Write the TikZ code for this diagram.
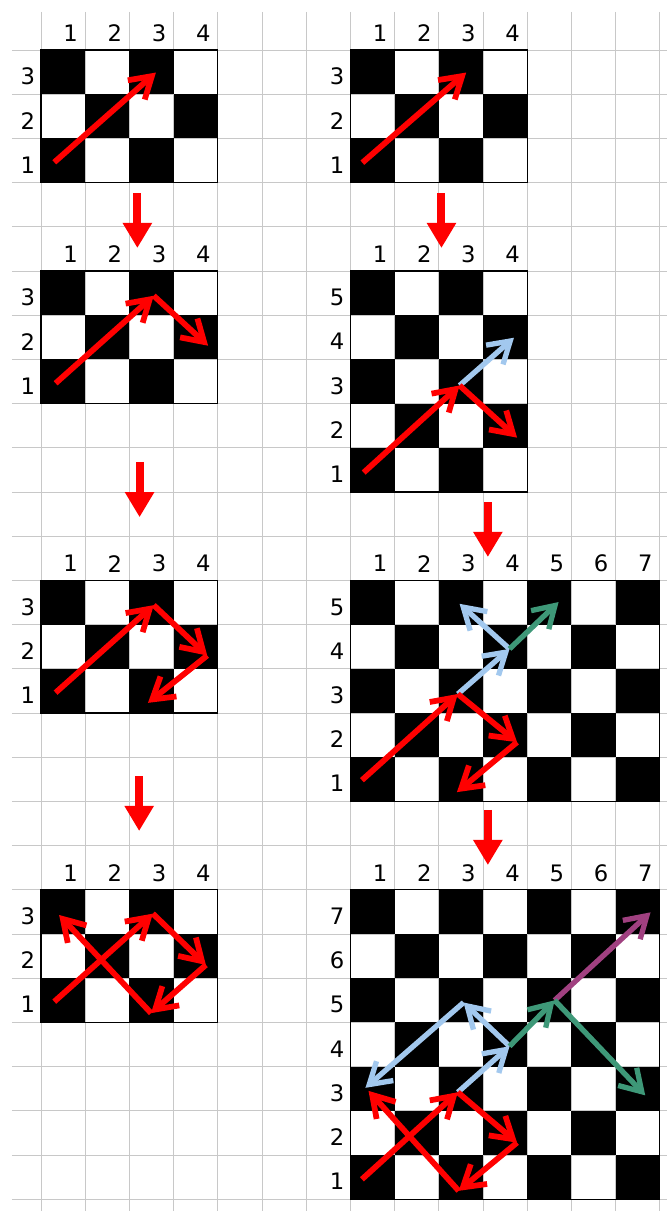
\documentclass[tikz,border=0pt]{standalone}
\usepackage{fontspec}
\setmainfont{DejaVu Sans}
\usetikzlibrary{arrows.meta}
\definecolor{gridgray}{RGB}{200,200,200}
\definecolor{arrred}{RGB}{255,0,0}
\definecolor{arrblue}{RGB}{162,200,238}
\definecolor{arrgreen}{RGB}{62,152,120}
\definecolor{arrpurple}{RGB}{160,64,128}
\newcommand{\drawboard}[3]{%
  \foreach \c in {1,...,#1} {
    \foreach \r in {1,...,#2} {
      \pgfmathtruncatemacro{\parity}{mod(\c+\r,2)}
      \ifnum\parity=0 \fill[black] (\c-1,\r-1) rectangle (\c,\r); \fi
    }
    \node[lbl] (#3c\c) at (\c-0.33,#2+0.38) {\c};
  }
  \foreach \r in {1,...,#2} {\node[lbl] (#3r\r) at (-0.30,\r-0.60) {\r};}
  \draw[boardline] (0,0) rectangle (#1,#2);
}
\begin{document}
\begin{tikzpicture}[x=1cm,y=1cm,
  lbl/.style={font=\fontsize{14.6}{17}\selectfont, inner sep=0pt},
  gridline/.style={draw=gridgray, line width=0.6pt},
  boardline/.style={draw=black, line width=0.7pt},
  barb/.style={-{Straight Barb[length=0.47cm,width=0.58cm]}},
  redarr/.style={barb, draw=arrred, line width=0.13cm},
  bluearr/.style={barb, draw=arrblue, line width=0.12cm},
  greenarr/.style={barb, draw=arrgreen, line width=0.12cm},
  purplearr/.style={barb, draw=arrpurple, line width=0.12cm},
  downarr/.style={draw=arrred, line width=0.18cm, -{Triangle[length=0.57cm,width=0.63cm]}}]
\useasboundingbox (-0.928,-26.267) rectangle (14.163,1.131);
\fill[white] (-0.928,-26.267) rectangle (14.163,1.131);
% background grid
\foreach \k in {0,...,14} {\draw[gridline] (\k,0.86) -- (\k,-26.267);}
\foreach \k in {0,...,26} {\draw[gridline] (-0.66,-\k) -- (14.163,-\k);}

% ---------- left column ----------
\begin{scope}[shift={(0,-3)}]
  \drawboard{4}{3}{la}
  \coordinate (l1A) at (0.30,0.46); \coordinate (l1B) at (2.60,2.49);
  \draw[redarr] (l1A) -- (l1B);
\end{scope}
\begin{scope}[shift={(0,-8)}]
  \drawboard{4}{3}{lb}
  \coordinate (l2A) at (0.33,0.46); \coordinate (l2B) at (2.55,2.44);
  \coordinate (l2C) at (3.78,1.31);
  \draw[redarr] (l2A) -- (l2B);
  \draw[redarr] (l2B) -- (l2C);
\end{scope}
\begin{scope}[shift={(0,-15)}]
  \drawboard{4}{3}{lc}
  \coordinate (l3A) at (0.33,0.46); \coordinate (l3B) at (2.55,2.44);
  \coordinate (l3C) at (3.76,1.30); \coordinate (l3D) at (2.42,0.23);
  \draw[redarr] (l3A) -- (l3B);
  \draw[redarr] (l3B) -- (l3C);
  \draw[redarr] (l3C) -- (l3D);
\end{scope}
\begin{scope}[shift={(0,-22)}]
  \drawboard{4}{3}{ld}
  \coordinate (l4A) at (0.30,0.47); \coordinate (l4B) at (2.53,2.46);
  \coordinate (l4C) at (3.73,1.30); \coordinate (l4D) at (2.49,0.21);
  \coordinate (l4E) at (0.41,2.43);
  \draw[redarr] (l4A) -- (l4B);
  \draw[redarr] (l4B) -- (l4C);
  \draw[redarr] (l4C) -- (l4D);
  \draw[redarr] (l4D) -- (l4E);
\end{scope}

% ---------- right column ----------
\begin{scope}[shift={(7,-3)}]
  \drawboard{4}{3}{ra}
  \coordinate (r1A) at (0.27,0.45); \coordinate (r1B) at (2.62,2.49);
  \draw[redarr] (r1A) -- (r1B);
\end{scope}
\begin{scope}[shift={(7,-10)}]
  \drawboard{4}{5}{rb}
  \coordinate (r2A) at (0.30,0.44); \coordinate (r2B) at (2.47,2.41);
  \coordinate (r2F) at (3.70,3.49); \coordinate (r2C) at (3.77,1.23);
  \draw[redarr] (r2A) -- (r2B);
  \draw[bluearr] (r2B) -- (r2F);
  \draw[redarr] (r2B) -- (r2C);
\end{scope}
\begin{scope}[shift={(7,-17)}]
  \drawboard{7}{5}{rc}
  \coordinate (r3A) at (0.26,0.48); \coordinate (r3B) at (2.43,2.43);
  \coordinate (r3C) at (3.77,1.34); \coordinate (r3D) at (2.41,0.21);
  \coordinate (r3F) at (3.60,3.45); \coordinate (r3G) at (2.47,4.47);
  \coordinate (r3H) at (4.71,4.51);
  \draw[bluearr] (r3B) -- (r3F);
  \draw[bluearr] (r3F) -- (r3G);
  \draw[greenarr] (r3F) -- (r3H);
  \draw[redarr] (r3A) -- (r3B);
  \draw[redarr] (r3B) -- (r3C);
  \draw[redarr] (r3C) -- (r3D);
\end{scope}
\begin{scope}[shift={(7,-26)}]
  \drawboard{7}{7}{rd}
  \coordinate (r4A) at (0.26,0.45); \coordinate (r4B) at (2.43,2.42);
  \coordinate (r4C) at (3.77,1.28); \coordinate (r4D) at (2.45,0.19);
  \coordinate (r4E) at (0.41,2.45); \coordinate (r4F) at (3.60,3.46);
  \coordinate (r4G) at (2.56,4.45); \coordinate (r4K) at (0.34,2.52);
  \coordinate (r4H) at (4.62,4.50); \coordinate (r4M) at (6.67,2.35);
  \coordinate (r4P) at (6.79,6.49);
  \draw[bluearr] (r4B) -- (r4F);
  \draw[bluearr] (r4F) -- (r4G);
  \draw[bluearr] (r4G) -- (r4K);
  \draw[purplearr] (r4H) -- (r4P);
  \draw[greenarr] (r4F) -- (r4H);
  \draw[greenarr] (r4H) -- (r4M);
  \draw[redarr] (r4A) -- (r4B);
  \draw[redarr] (r4B) -- (r4C);
  \draw[redarr] (r4C) -- (r4D);
  \draw[redarr] (r4D) -- (r4E);
\end{scope}

% ---------- step arrows ----------
\coordinate (d1s) at (2.18,-3.24);  \coordinate (d1e) at (2.18,-4.48);
\coordinate (d2s) at (2.23,-9.32);  \coordinate (d2e) at (2.23,-10.57);
\coordinate (d3s) at (2.22,-16.43); \coordinate (d3e) at (2.22,-17.67);
\coordinate (d4s) at (9.06,-3.24);  \coordinate (d4e) at (9.06,-4.48);
\coordinate (d5s) at (10.11,-10.23); \coordinate (d5e) at (10.11,-11.47);
\coordinate (d6s) at (10.11,-17.19); \coordinate (d6e) at (10.11,-18.44);
\foreach \i in {1,...,6} {\draw[downarr] (d\i s) -- (d\i e);}
\end{tikzpicture}
\end{document}
